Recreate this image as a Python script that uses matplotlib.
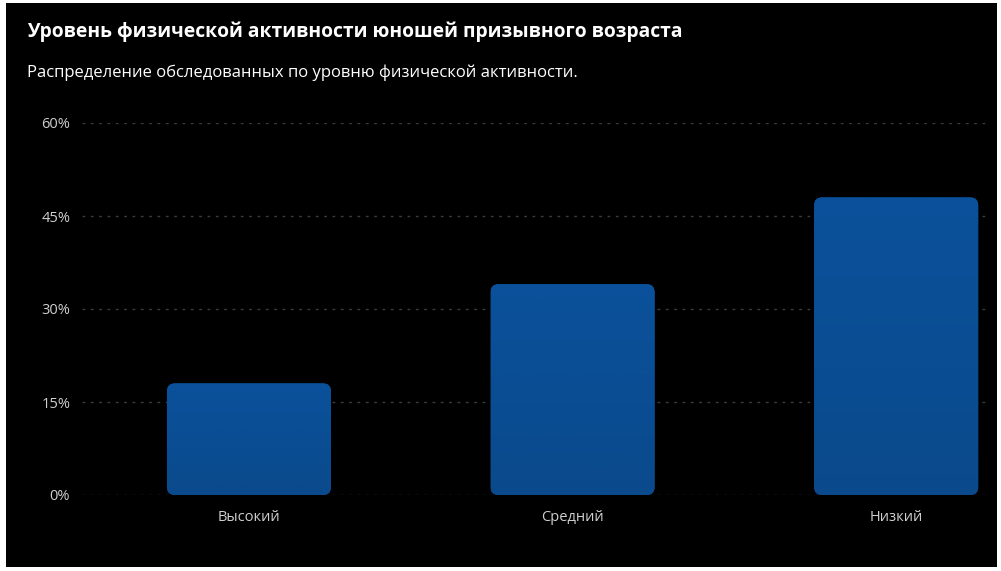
import numpy as np
import matplotlib
matplotlib.use('Agg')
import matplotlib.pyplot as plt
from matplotlib.patches import FancyBboxPatch, Rectangle
from matplotlib.colors import LinearSegmentedColormap

categories = ['Высокий', 'Средний', 'Низкий']
values = [18, 34, 48]
yticks = [0, 15, 30, 45, 60]
ytick_labels = ['0%', '15%', '30%', '45%', '60%']

title = 'Уровень физической активности юношей призывного возраста'
subtitle = 'Распределение обследованных по уровню физической активности.'

plt.rcParams['font.family'] = ['Open Sans', 'DejaVu Sans']

W, H = 1001, 571
fig = plt.figure(figsize=(W / 100, H / 100), dpi=100, facecolor='white')
# black card inside a thin white border
fig.patches.append(Rectangle((6 / W, 4 / H), 991 / W, 564 / H, transform=fig.transFigure,
                             facecolor='black', edgecolor='none', zorder=-10))

ax = fig.add_axes([82 / W, 76 / H, 908 / W, 372 / H])
ax.set_facecolor('none')

ax.set_yticks(yticks)
ax.set_yticklabels(ytick_labels)
ax.set_xticks(range(len(categories)))
ax.set_xticklabels(categories)
ax.tick_params(axis='y', length=0, pad=8.5, labelsize=10.5, labelcolor='#cfcfcf')
ax.tick_params(axis='x', length=0, pad=11, labelsize=10.5, labelcolor='#cfcfcf')
for s in ax.spines.values():
    s.set_visible(False)
ax.grid(axis='y', color='#3c3c3c', linestyle=(0, (2, 4)), linewidth=1)
ax.set_axisbelow(True)

bw = 0.507
# rounding: ~8 px; 1 x-unit = 323.5 px, 1 y-unit = 6.2 px
r = 8 / 323.5
aspect = (8 / 6.2) / r
grad = np.linspace(0, 1, 256).reshape(-1, 1)
cmap = LinearSegmentedColormap.from_list('b', ['#0a4a8c', '#0a519b'])
for i, v in enumerate(values):
    p = FancyBboxPatch((i - bw / 2, 0), bw, v,
                       boxstyle='round,pad=0,rounding_size=%f' % r,
                       mutation_aspect=aspect, facecolor='#0a4e96',
                       edgecolor='none', zorder=2)
    ax.add_patch(p)
    im = ax.imshow(grad, extent=(i - bw / 2, i + bw / 2, 0, v), origin='lower',
                   cmap=cmap, aspect='auto', zorder=3)
    im.set_clip_path(p)

ax.set_xlim(-0.516, 2.29)
ax.set_ylim(0, 60)

fig.text(27 / W, 1 - 32 / H, title, color='white', fontsize=13.9, fontweight='bold',
         va='center', ha='left')
fig.text(27 / W, 1 - 73 / H, subtitle, color='white', fontsize=12,
         va='center', ha='left')

fig.savefig('out.png', dpi=100, facecolor='white')
